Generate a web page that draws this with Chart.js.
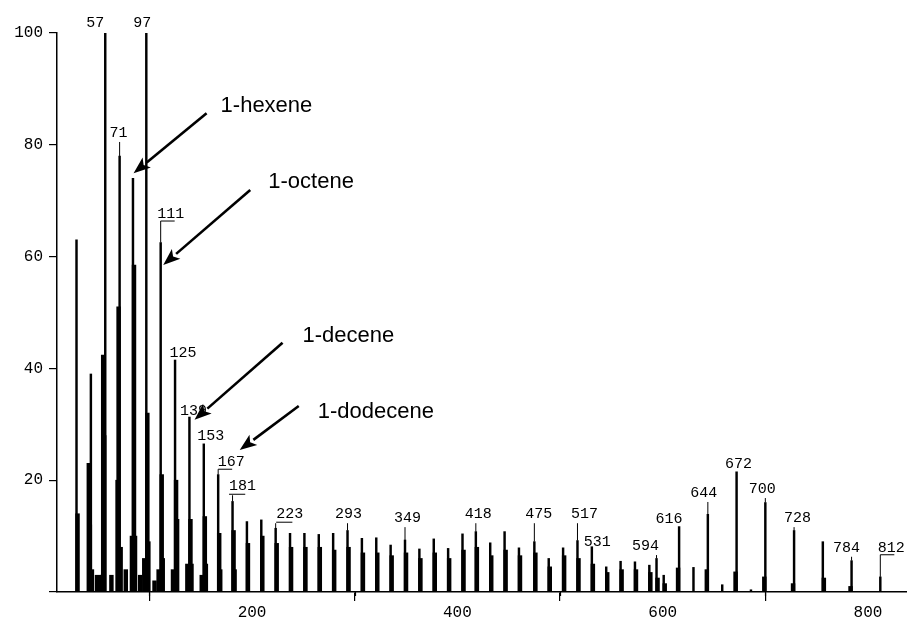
<!DOCTYPE html>
<html>
<head>
<meta charset="utf-8">
<title>Mass spectrum</title>
<script src="https://cdn.jsdelivr.net/npm/chart.js@4.4.1/dist/chart.umd.min.js"></script>
<style>
  html, body { margin: 0; padding: 0; background: #fff; }
  .chart-container { position: relative; width: 907px; height: 619px; }
</style>
</head>
<body>
<div class="chart-container"><canvas id="spectrum"></canvas></div>
<script>
// main line of each cluster: m/z and relative intensity (%)
const peakMass = [29, 43, 57, 71, 84, 97, 111, 125, 139, 153, 167, 181, 195, 209, 223, 237, 251, 265, 279, 293,
  307, 321, 335, 349, 363, 377, 391, 405, 418, 432, 446, 460, 475, 489, 503, 517, 531, 545, 559, 573,
  587, 594, 601, 616, 630, 644, 658, 672, 686, 700, 728, 756, 784, 812];
const peakIntensity = [63, 39, 100, 78, 74, 100, 62.5, 41.5, 31.3, 26.5, 21, 16.2, 12.6, 12.9, 11.4, 10.5, 10.5, 10.3, 10.5, 11,
  9.6, 9.7, 8.4, 9.3, 7.7, 9.5, 7.8, 10.4, 10.8, 8.8, 10.8, 7.9, 9.0, 6.0, 7.9, 9.2, 8.1, 4.5, 5.5, 5.4,
  4.8, 6.0, 3.0, 11.7, 4.4, 13.9, 1.3, 21.5, 0.4, 16, 11, 9, 5.6, 2.7];

// neighbouring lines that make the clusters look thick
const minorMass = [30, 41, 42, 44, 49, 53, 54, 55, 56, 63, 69, 70, 72, 77, 83, 85, 86, 91, 95, 98, 99, 105,
  109, 112, 113, 123, 126, 127, 137, 140, 141, 151, 154, 155, 168, 169, 182, 183, 196, 210, 224, 238,
  252, 266, 280, 294, 308, 322, 336, 350, 364, 378, 392, 406, 419, 433, 447, 461, 476, 490, 504, 518,
  532, 546, 560, 574, 588, 595, 602, 615, 643, 671, 699, 727, 757, 783];
const minorIntensity = [14, 23, 12, 4, 3, 3, 3, 42.4, 28, 3, 20, 51, 8, 4, 10, 58.5, 10, 3, 6, 32, 9, 2,
  4, 21, 6, 4, 20, 13, 5, 13, 5, 3, 13.5, 5, 10.5, 4, 11, 4, 8.7, 10, 8.7, 8,
  8, 8, 7.5, 8, 7, 7, 6.5, 7, 6, 7, 6, 7.5, 8, 6.5, 7.5, 6.5, 7, 4.5, 6.5, 6,
  5, 3.5, 4, 4, 3.5, 2.5, 1.5, 4.3, 4, 3.6, 2.7, 1.5, 2.5, 1];

// lines that carry an m/z label
const labelMass = [57, 71, 97, 111, 125, 139, 153, 167, 181, 223, 293, 349, 418, 475, 517, 531, 594, 616, 644, 672, 700, 728, 784, 812];

// axes
const xTicks = [200, 400, 600, 800];
const xMinorTicks = [100, 300, 500, 700];
const yTicks = [0, 20, 40, 60, 80, 100];

// compounds marked with arrows, and the point each arrow touches
const compoundNames = ['1-hexene', '1-octene', '1-decene', '1-dodecene'];
const compoundMass = [84.6, 113.5, 144, 188];
const compoundIntensity = [74.9, 58.5, 30.8, 25.4];

// label placement: baseline height (in % units), x shift in px, decoration
const labelLayout = [
  { base: 101.1, dx: -10 }, { base: 81.4, dx: -1 }, { base: 101.1, dx: -4 },
  { base: 66.9, dx: 10, deco: 'bracket' }, { base: 42.0, dx: 8 }, { base: 31.7, dx: 4 },
  { base: 27.2, dx: 7 }, { base: 22.5, dx: 13, deco: 'bracket' }, { base: 18.2, dx: 10, deco: 'under' },
  { base: 13.2, dx: 14, deco: 'under' }, { base: 13.2, dx: 1 }, { base: 12.5, dx: 2.5 },
  { base: 13.2, dx: 2.5 }, { base: 13.2, dx: 4.5 }, { base: 13.2, dx: 7 },
  { base: 8.2, dx: 5.5 }, { base: 7.5, dx: -11 }, { base: 12.3, dx: -10 },
  { base: 17.0, dx: -4 }, { base: 22.2, dx: 2 }, { base: 17.7, dx: -3 },
  { base: 12.5, dx: 3.5 }, { base: 7.2, dx: -5 }, { base: 7.2, dx: 11, deco: 'bracket' }
];
// arrow tail relative to tip, text relative to tail (px)
const arrowLayout = [
  { tail: [73, -60], text: [14, -1] },
  { tail: [87, -75], text: [18, -2] },
  { tail: [88, -77], text: [20, -1] },
  { tail: [59, -44], text: [19, 12] }
];

const monoFont = '"Liberation Mono", "DejaVu Sans Mono", monospace';
const sansFont = '"Liberation Sans", Arial, sans-serif';

const mainPoints = peakMass.map((m, i) => ({ x: m, y: peakIntensity[i] }));
const minorPoints = minorMass.map((m, i) => ({ x: m, y: minorIntensity[i] }));

// draws minor ticks, peak labels and the compound arrows
const spectrumAnnotations = {
  id: 'spectrumAnnotations',
  afterDraw(chart) {
    const { ctx, scales: { x, y } } = chart;
    ctx.save();
    ctx.fillStyle = '#000';
    ctx.strokeStyle = '#000';

    // short ticks at the odd hundreds
    ctx.lineWidth = 1.2;
    const base = y.getPixelForValue(0);
    xMinorTicks.forEach(v => {
      const px = Math.round(x.getPixelForValue(v)) + 0.5;
      ctx.beginPath();
      ctx.moveTo(px, base);
      ctx.lineTo(px, base + 4);
      ctx.stroke();
    });

    // m/z labels
    ctx.font = '15px ' + monoFont;
    ctx.textAlign = 'center';
    ctx.textBaseline = 'alphabetic';
    ctx.lineWidth = 1;
    labelMass.forEach((m, i) => {
      const lay = labelLayout[i];
      const px = x.getPixelForValue(m);
      const top = y.getPixelForValue(peakIntensity[peakMass.indexOf(m)]);
      const by = y.getPixelForValue(lay.base);
      const tx = px + lay.dx;
      const txt = String(m);
      ctx.fillText(txt, tx, by);
      const w = ctx.measureText(txt).width;
      if (lay.deco === 'bracket') {
        ctx.beginPath();
        ctx.moveTo(px, top);
        ctx.lineTo(px, by + 3);
        ctx.lineTo(px + 14, by + 3);
        ctx.stroke();
      } else {
        if (lay.deco === 'under') {
          ctx.beginPath();
          ctx.moveTo(tx - w / 2, by + 4);
          ctx.lineTo(tx - w / 2 + w * 0.6, by + 4);
          ctx.stroke();
        }
        if (top - by > 8) {
          ctx.beginPath();
          ctx.moveTo(px, top);
          ctx.lineTo(px, by + 5);
          ctx.stroke();
        }
      }
    });

    // arrows pointing at the alkene lines
    ctx.font = '22px ' + sansFont;
    ctx.textAlign = 'left';
    compoundNames.forEach((name, i) => {
      const lay = arrowLayout[i];
      const tipX = x.getPixelForValue(compoundMass[i]);
      const tipY = y.getPixelForValue(compoundIntensity[i]);
      const tailX = tipX + lay.tail[0];
      const tailY = tipY + lay.tail[1];
      const ang = Math.atan2(tailY - tipY, tailX - tipX);
      const headLen = 17, headW = 6.5;
      const bx = tipX + Math.cos(ang) * headLen;
      const by = tipY + Math.sin(ang) * headLen;
      ctx.lineWidth = 2.6;
      ctx.beginPath();
      ctx.moveTo(bx, by);
      ctx.lineTo(tailX, tailY);
      ctx.stroke();
      ctx.beginPath();
      ctx.moveTo(tipX, tipY);
      ctx.lineTo(bx - Math.sin(ang) * headW, by + Math.cos(ang) * headW);
      ctx.lineTo(tipX + Math.cos(ang) * (headLen - 4), tipY + Math.sin(ang) * (headLen - 4));
      ctx.lineTo(bx + Math.sin(ang) * headW, by - Math.cos(ang) * headW);
      ctx.closePath();
      ctx.fill();
      ctx.fillText(name, tailX + lay.text[0], tailY + lay.text[1]);
    });
    ctx.restore();
  }
};

new Chart(document.getElementById('spectrum').getContext('2d'), {
  type: 'bar',
  data: {
    datasets: [{
      label: 'minor',
      data: minorPoints,
      backgroundColor: '#000',
      borderWidth: 0,
      barThickness: 3.8
    }, {
      label: 'main',
      data: mainPoints,
      backgroundColor: '#000',
      borderWidth: 0,
      barThickness: 1.8
    }]
  },
  options: {
    responsive: true,
    maintainAspectRatio: false,
    animation: false,
    layout: { padding: { top: 33, left: 0, right: 0, bottom: 0 } },
    plugins: {
      legend: { display: false },
      tooltip: { enabled: false }
    },
    scales: {
      x: {
        type: 'linear',
        min: 10,
        max: 838,
        offset: false,
        stacked: true, // bars of both datasets share one slot, so they overlap
        afterBuildTicks: (s) => { s.ticks = xTicks.map(v => ({ value: v })); },
        afterFit: (s) => { s.height = 27; },
        grid: { drawOnChartArea: false, tickLength: 9, color: '#000', lineWidth: 1.2 },
        border: { color: '#000', width: 1.5 },
        ticks: { color: '#000', font: { family: monoFont, size: 16 }, padding: 2, maxRotation: 0 }
      },
      y: {
        min: 0,
        max: 100,
        stacked: false,
        afterBuildTicks: (s) => { s.ticks = yTicks.map(v => ({ value: v })); },
        afterFit: (s) => { s.width = 57; },
        grid: { drawOnChartArea: false, tickLength: 8, color: '#000', lineWidth: 1.2 },
        border: { color: '#000', width: 1.5 },
        ticks: {
          color: '#000',
          font: { family: monoFont, size: 16 },
          padding: 6,
          callback: (v) => (v === 0 ? '' : v)
        }
      }
    }
  },
  plugins: [spectrumAnnotations]
});
</script>
</body>
</html>
